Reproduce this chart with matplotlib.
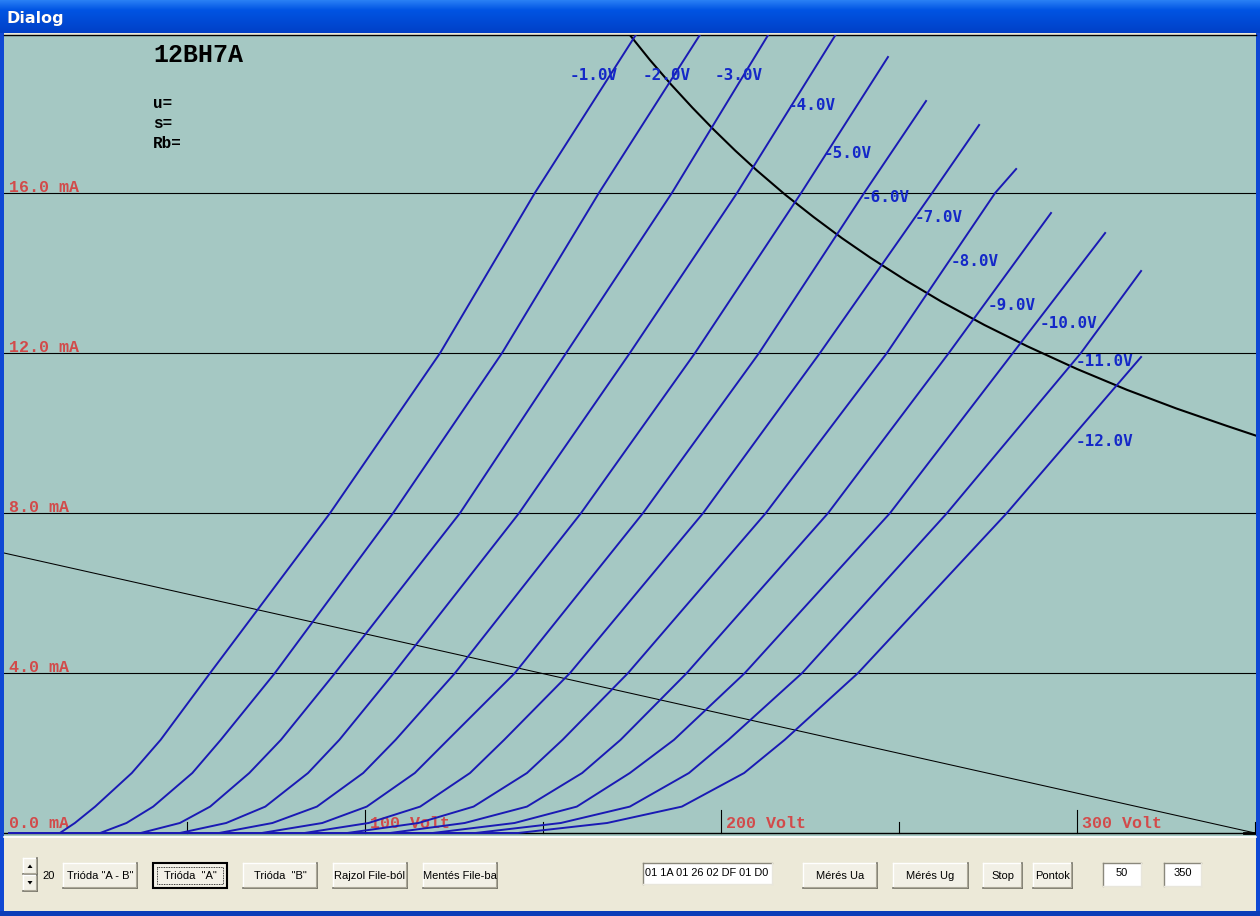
import numpy as np
import matplotlib
matplotlib.use("Agg")
import matplotlib.pyplot as plt
from matplotlib.patches import Rectangle, Polygon

# ---- data ----
TUBE_NAME = "12BH7A"
GRID_VOLTS = [-1, -2, -3, -4, -5, -6, -7, -8, -9, -10, -11, -12]

# anode current levels (mA) at which each curve's anode voltage was read
IA_LEVELS = [0.0, 0.25, 0.66, 1.5, 2.33, 4.0, 8.0, 12.0, 16.0]

# anode voltage (V) of each curve at the levels above (shorter rows end earlier)
UA_CURVES = [
    [14.3, 18.5, 24.2, 34.5, 42.6, 56.5, 90.2, 121.1, 147.7],
    [25.6, 33.0, 40.5, 51.5, 59.5, 74.7, 107.9, 138.5, 165.7],
    [37.0, 48.0, 56.5, 67.5, 76.4, 91.6, 126.7, 156.5, 186.2],
    [48.0, 61.0, 72.0, 84.0, 92.8, 108.1, 143.3, 174.4, 204.5],
    [59.0, 74.0, 86.5, 99.5, 108.6, 125.3, 160.7, 192.7, 222.5],
    [71.0, 88.0, 100.5, 114.0, 123.3, 142.1, 178.1, 210.7, 240.2],
    [83.0, 101.0, 115.5, 129.5, 139.1, 157.6, 195.0, 227.8, 259.3],
    [95.0, 115.0, 130.5, 145.5, 155.5, 173.9, 212.6, 246.6, 277.0],
    [107.0, 128.0, 145.5, 161.0, 171.8, 190.4, 230.1, 264.0],
    [119.0, 142.0, 159.5, 174.4, 186.8, 206.7, 247.5, 282.0],
    [131.0, 155.0, 174.4, 191.0, 202.1, 222.8, 263.5, 301.1],
    [143.0, 168.0, 189.0, 206.5, 217.9, 238.5, 280.3],
]
# last measured point of each curve (V, mA)
END_UA = [180.0, 198.0, 217.0, 236.0, 246.9, 257.6, 272.5, 282.9, 292.7, 307.9, 318.0, 318.0]
END_IA = [20.5, 20.5, 20.5, 20.5, 19.4, 18.3, 17.7, 16.6, 15.5, 15.0, 14.05, 11.9]

# max. dissipation curve (V, mA)
HYP_UA = [174.4, 180, 186, 192, 198, 204, 210, 218, 226, 234, 242, 252, 262, 274,
          286, 300, 314, 328, 342, 351.4]
HYP_IA = [19.95, 19.33, 18.71, 18.13, 17.58, 17.06, 16.57, 15.96, 15.40, 14.87, 14.38,
          13.81, 13.28, 12.70, 12.17, 11.60, 11.08, 10.61, 10.18, 9.90]

# load line (V, mA)
LOAD_UA = [-1.4, 350.0]
LOAD_IA = [7.0, 0.0]

IA_GRID = [0, 4, 8, 12, 16]
UA_MAJOR = [100, 200, 300]
UA_MINOR = [50, 150, 250, 350]

# label anchor points (V, mA)
LABEL_UA = [157.6, 178.1, 198.3, 218.8, 228.9, 239.6, 254.5, 264.6, 275.0, 289.6, 299.7, 299.7]
LABEL_IA = [18.95, 18.95, 18.95, 18.18, 17.0, 15.9, 15.38, 14.3, 13.2, 12.73, 11.78, 9.8]

BUTTONS = ['Trióda "A - B"', 'Trióda  "A"', 'Trióda  "B"', 'Rajzol File-ból', 'Mentés File-ba',
           'Mérés Ua', 'Mérés Ug', 'Stop', 'Pontok']
BUTTON_X = [(63, 137), (153, 227), (243, 317), (333, 407), (423, 497),
            (803, 877), (893, 968), (983, 1022), (1033, 1072)]
HEX_STRING = "01 1A 01 26 02 DF 01 D0"
LOAD_R = "50"
MAX_UA = "350"
SPIN_VALUE = "20"

# ---- colours / geometry ----
W, H = 1260, 916
X0, PXV = 9.0, 3.56      # pixel of 0 V, pixels per volt
Y0, PXMA = 833.0, 40.0   # pixel of 0 mA, pixels per mA
TEAL = '#a5c8c3'
PANEL = '#ece9d8'
CURVE = '#1a1ab4'
LABEL_BLUE = '#1428c8'
RED = '#d24a4a'

fig = plt.figure(figsize=(W / 100, H / 100), dpi=100)

# background axes in pixel coordinates (window chrome)
bg = fig.add_axes([0, 0, 1, 1])
bg.set_xlim(0, W)
bg.set_ylim(H, 0)
bg.axis('off')
bg.add_patch(Rectangle((0, 0), W, H, facecolor=PANEL, edgecolor='none'))

# title bar gradient
grad = np.linspace(0, 1, 33)[:, None]
top = np.array([0.16, 0.50, 0.96])
mid = np.array([0.0, 0.33, 0.89])
bot = np.array([0.0, 0.25, 0.78])
cols = np.where(grad[..., None] < 0.3, top + (mid - top) * (grad[..., None] / 0.3),
                mid + (bot - mid) * ((grad[..., None] - 0.3) / 0.7))
bg.imshow(np.repeat(cols, 2, axis=1), extent=[0, W, 33, 0], aspect='auto', zorder=1)
bg.text(7, 19, "Dialog", color='#0a1e6e', fontsize=11.5, fontweight='bold',
        family='DejaVu Sans', va='center', zorder=2)
bg.text(6, 18, "Dialog", color='white', fontsize=11.5, fontweight='bold',
        family='DejaVu Sans', va='center', zorder=3)

# window frame
frame = '#1048d4'
bg.add_patch(Rectangle((0, 33), 4, H - 33, facecolor=frame, edgecolor='none', zorder=1))
bg.add_patch(Rectangle((W - 4, 33), 4, H - 33, facecolor=frame, edgecolor='none', zorder=1))
bg.add_patch(Rectangle((0, H - 5), W, 5, facecolor='#0c3cb8', edgecolor='none', zorder=1))
bg.plot([4, W - 4], [836.5, 836.5], color='white', lw=1.2, zorder=1)


def button(x0, x1, y0, y1, label, default=False):
    bg.add_patch(Rectangle((x0, y0), x1 - x0, y1 - y0, facecolor='#f2f0e6',
                           edgecolor='none', zorder=2))
    bg.plot([x0, x1], [y0, y0], color='white', lw=1, zorder=3)
    bg.plot([x0, x0], [y0, y1], color='white', lw=1, zorder=3)
    bg.plot([x0, x1], [y1, y1], color='#716f64', lw=1.2, zorder=3)
    bg.plot([x1, x1], [y0, y1], color='#716f64', lw=1.2, zorder=3)
    bg.plot([x0 + 1, x1 - 1], [y1 - 1.5, y1 - 1.5], color='#aca899', lw=0.8, zorder=3)
    bg.plot([x1 - 1.5, x1 - 1.5], [y0 + 1, y1 - 1], color='#aca899', lw=0.8, zorder=3)
    if default:
        bg.add_patch(Rectangle((x0, y0), x1 - x0, y1 - y0, facecolor='none',
                               edgecolor='black', lw=1.5, zorder=4))
        bg.add_patch(Rectangle((x0 + 4, y0 + 4), x1 - x0 - 8, y1 - y0 - 8, facecolor='none',
                               edgecolor='black', lw=0.6, ls=(0, (1, 1)), zorder=4))
    bg.text((x0 + x1) / 2, (y0 + y1) / 2 + 0.5, label, ha='center', va='center',
            fontsize=8, family='Liberation Sans', color='black', zorder=5)


def textbox(x0, x1, y0, y1, label, center=True):
    bg.add_patch(Rectangle((x0, y0), x1 - x0, y1 - y0, facecolor='white',
                           edgecolor='none', zorder=2))
    bg.plot([x0, x1], [y0, y0], color='#8a887c', lw=1, zorder=3)
    bg.plot([x0, x0], [y0, y1], color='#8a887c', lw=1, zorder=3)
    bg.plot([x0, x1], [y1, y1], color='#e8e6dc', lw=1, zorder=3)
    bg.plot([x1, x1], [y0, y1], color='#e8e6dc', lw=1, zorder=3)
    if center:
        bg.text((x0 + x1) / 2, (y0 + y1) / 2 - 1, label, ha='center', va='center',
                fontsize=8, family='Liberation Sans', zorder=5)
    else:
        bg.text(x0 + 2, (y0 + y1) / 2 - 1, label, ha='left', va='center',
                fontsize=7.9, family='Liberation Sans', zorder=5)


for i, lab in enumerate(BUTTONS):
    button(BUTTON_X[i][0], BUTTON_X[i][1], 863, 888, lab, default=(i == 1))

textbox(643, 772, 863, 884, HEX_STRING, center=False)
textbox(1103, 1141, 863, 886, LOAD_R)
textbox(1164, 1201, 863, 886, MAX_UA)

# spinner
for sy0, sy1, up in [(858, 874, True), (875, 891, False)]:
    button(23, 37, sy0, sy1, '')
    cy = (sy0 + sy1) / 2
    if up:
        tri = [(27.5, cy + 2), (32.5, cy + 2), (30, cy - 1.5)]
    else:
        tri = [(27.5, cy - 2), (32.5, cy - 2), (30, cy + 1.5)]
    bg.add_patch(Polygon(tri, closed=True, facecolor='black', edgecolor='none', zorder=6))
bg.text(42, 876, SPIN_VALUE, ha='left', va='center', fontsize=8,
        family='Liberation Sans', zorder=5)

# ---- plot area ----
px_l, px_r, px_t, px_b = 4, 1256, 35, 836
ax = fig.add_axes([px_l / W, 1 - px_b / H, (px_r - px_l) / W, (px_b - px_t) / H])
ax.set_facecolor(TEAL)
ax.set_xlim((px_l - X0) / PXV, (px_r - X0) / PXV)
ax.set_ylim((Y0 - px_b) / PXMA, (Y0 - px_t) / PXMA)
for s in ['left', 'right', 'bottom']:
    ax.spines[s].set_visible(False)
ax.spines['top'].set_color('black')
ax.spines['top'].set_linewidth(1.0)
ax.set_xticks([])
ax.set_yticks([])

# grid lines and their labels
for ia in IA_GRID:
    if ia > 0:
        ax.axhline(ia, color='black', lw=0.8, zorder=1)
    off = 0.03 if ia > 0 else 0.12
    ax.text(0.0, ia + off, f"{ia:.1f} mA", color=RED, fontsize=12, fontweight='bold',
            family='Liberation Mono', ha='left', va='baseline', zorder=2)
ax.axhline(0, color='black', lw=1.0, zorder=1)

for ua in UA_MAJOR:
    ax.plot([ua, ua], [0, 0.58], color='black', lw=0.8, zorder=1)
    ax.text(ua + 1.4, 0.12, f"{ua} Volt", color=RED, fontsize=12, fontweight='bold',
            family='Liberation Mono', ha='left', va='baseline', zorder=2)
for ua in UA_MINOR:
    ax.plot([ua, ua], [0, 0.28], color='black', lw=0.8, zorder=1)

# load line and dissipation curve
ax.plot(LOAD_UA, LOAD_IA, color='black', lw=0.75, zorder=3)
ax.plot(HYP_UA, HYP_IA, color='black', lw=1.5, zorder=4)
ax.plot([347, 350.5], [0.0, 0.0], color='black', lw=2.0, zorder=4)

# characteristic curves
for k, ug in enumerate(GRID_VOLTS):
    ua = [0.0] + UA_CURVES[k] + [END_UA[k]]
    ia = [0.0] + IA_LEVELS[:len(UA_CURVES[k])] + [END_IA[k]]
    ax.plot(ua, ia, color=CURVE, lw=1.4, zorder=5, solid_joinstyle='round')
    ax.text(LABEL_UA[k], LABEL_IA[k], f"{ug:.1f}V", color=LABEL_BLUE, fontsize=11.5,
            fontweight='bold', family='DejaVu Sans Mono', ha='left', va='center', zorder=6)

# tube name and parameters
ax.text((153 - X0) / PXV, (Y0 - 55) / PXMA, TUBE_NAME, color='black', fontsize=18,
        fontweight='bold', family='Liberation Mono', ha='left', va='center', zorder=6)
for txt, py in [("u=", 104), ("s=", 124), ("Rb=", 144)]:
    ax.text((153 - X0) / PXV, (Y0 - py) / PXMA, txt, color='black', fontsize=11.5,
            fontweight='bold', family='Liberation Mono', ha='left', va='center', zorder=6)

fig.savefig("out.png", dpi=100)
